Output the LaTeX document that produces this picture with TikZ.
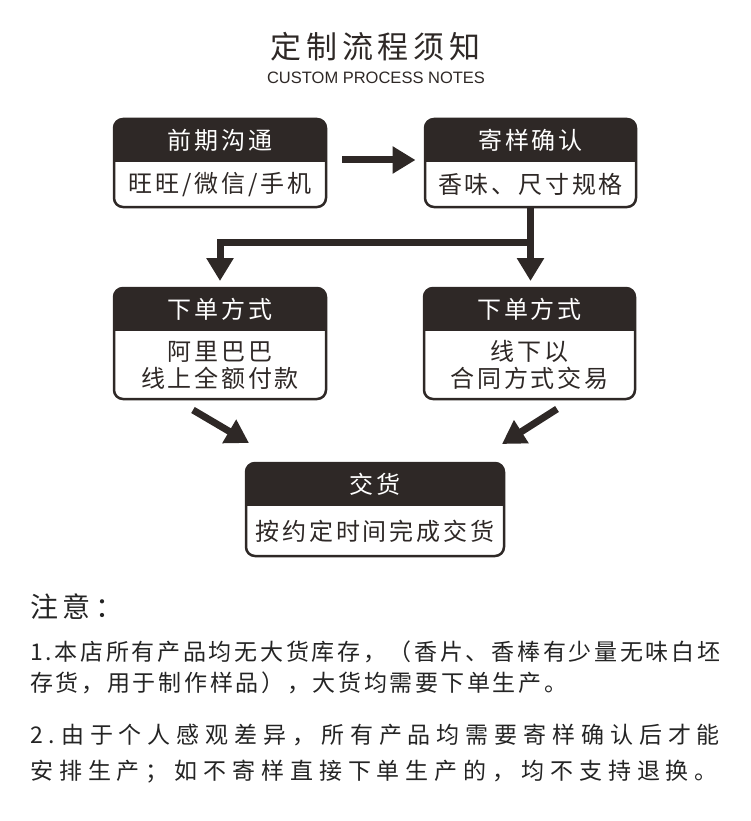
\documentclass[tikz,border=0pt]{standalone}
\usepackage{fontspec}
\setmainfont{Noto Sans CJK SC}
\newfontfamily\latinsans{Liberation Sans}
\usetikzlibrary{arrows.meta,calc,positioning}

\definecolor{boxdark}{RGB}{46,40,38}
\definecolor{notegray}{RGB}{36,36,36}

% spread CJK characters by \lsp
\newcommand\lsp{3pt}
\def\spacedtext#1{\spacedfirst#1\relax}
\def\spacedfirst#1{#1\spacednext}
\def\spacednext#1{\ifx#1\relax\else\hskip\lsp\relax#1\expandafter\spacednext\fi}

\tikzset{
  flowbox/.style={draw=boxdark, line width=2.5pt, fill=white, rounded corners=9pt, inner sep=0pt, outer sep=0pt},
  headtext/.style={text=white, inner sep=0pt, font=\fontsize{24}{27}\selectfont\def\lsp{2.8pt}},
  bodytext/.style={text=boxdark, align=center, inner sep=0pt, font=\fontsize{24}{27}\selectfont\def\lsp{2.8pt}},
  arr/.style={draw=boxdark, line width=7pt, -{Triangle[width=26pt,length=23pt]}},
  notetext/.style={anchor=west, inner sep=0pt, text=notegray}
}

\begin{document}
\begin{tikzpicture}[x=1pt,y=-1pt]
\useasboundingbox (0,0) rectangle (751,821);

% title
\node[text=boxdark, font=\fontsize{31}{36}\selectfont\def\lsp{4.8pt}] (title) at (375.5,47) {\spacedtext{定制流程须知}};
\node[text=boxdark, inner sep=0pt, font=\latinsans\fontsize{16.5}{19}\selectfont] (subtitle) at (376,78) {CUSTOM PROCESS NOTES};

% boxes
\foreach \nm/\cx/\cy/\w/\h/\htxt/\btxt in {
  goutong/220/163/212/88/{\spacedtext{前期沟通}}/{\spacedtext{旺旺/微信/手机}},
  jiyang/530.5/163/211/88/{\spacedtext{寄样确认}}/{\spacedtext{香味、尺寸规格}},
  alibaba/220/343.5/212/111/{\spacedtext{下单方式}}/{\spacedtext{阿里巴巴}\\\spacedtext{线上全额付款}},
  xianxia/529.5/343.5/211/111/{\spacedtext{下单方式}}/{\spacedtext{线下以}\\\spacedtext{合同方式交易}},
  jiaohuo/375/509.5/258/93/{\spacedtext{交货}}/{\spacedtext{按约定时间完成交货}}}{
  \node[flowbox, minimum width=\w pt, minimum height=\h pt] (\nm) at (\cx,\cy) {};
  \begin{scope}
    \clip[rounded corners=9pt] (\nm.north west) rectangle (\nm.south east);
    \fill[boxdark] (\nm.north west) rectangle ($(\nm.north east)+(0,43)$);
  \end{scope}
  \node[headtext] (\nm-head) at ($(\nm.north)+(0,21.5)$) {\htxt};
  \node[bodytext] (\nm-body) at ($(\nm)+(0,21.5)$) {\btxt};
}

% arrows
\draw[arr] ($(goutong.east)+(16,-3)$) -- ($(jiyang.west)+(-9.5,-3)$);
\draw[arr] (jiyang.south) -- ($(jiyang.south |- xianxia.north)+(0,-7)$);
\coordinate (fork) at ($(jiyang.south)+(0,35)$);
\draw[arr] (fork) -| ($(alibaba.north)+(0,-7)$);
\draw[arr] ($(alibaba.south)+(-27,11)$) -- ($(jiaohuo.north west)+(3,-20)$);
\draw[arr] ($(xianxia.south)+(27.5,10)$) -- ($(jiaohuo.north east)+(-2,-19)$);

% notes
\node[notetext, font=\fontsize{28}{32}\selectfont\def\lsp{4.5pt}] (zhuyi) at (30,607) {\spacedtext{注意：}};
\node[notetext, font=\fontsize{23}{26}\selectfont\def\lsp{2.7pt}] (note1a) at (30,652) {\spacedtext{1.本店所有产品均无大货库存，（香片、香棒有少量无味白坯}};
\node[notetext, font=\fontsize{23}{26}\selectfont\def\lsp{2.7pt}] (note1b) at (30,683) {\spacedtext{存货，用于制作样品），大货均需要下单生产。}};
\node[notetext, font=\fontsize{23}{26}\selectfont\def\lsp{5.9pt}] (note2a) at (30,735) {\spacedtext{2.由于个人感观差异，所有产品均需要寄样确认后才能}};
\node[notetext, font=\fontsize{23}{26}\selectfont\def\lsp{5.9pt}] (note2b) at (30,772) {\spacedtext{安排生产；如不寄样直接下单生产的，均不支持退换。}};
\end{tikzpicture}
\end{document}
